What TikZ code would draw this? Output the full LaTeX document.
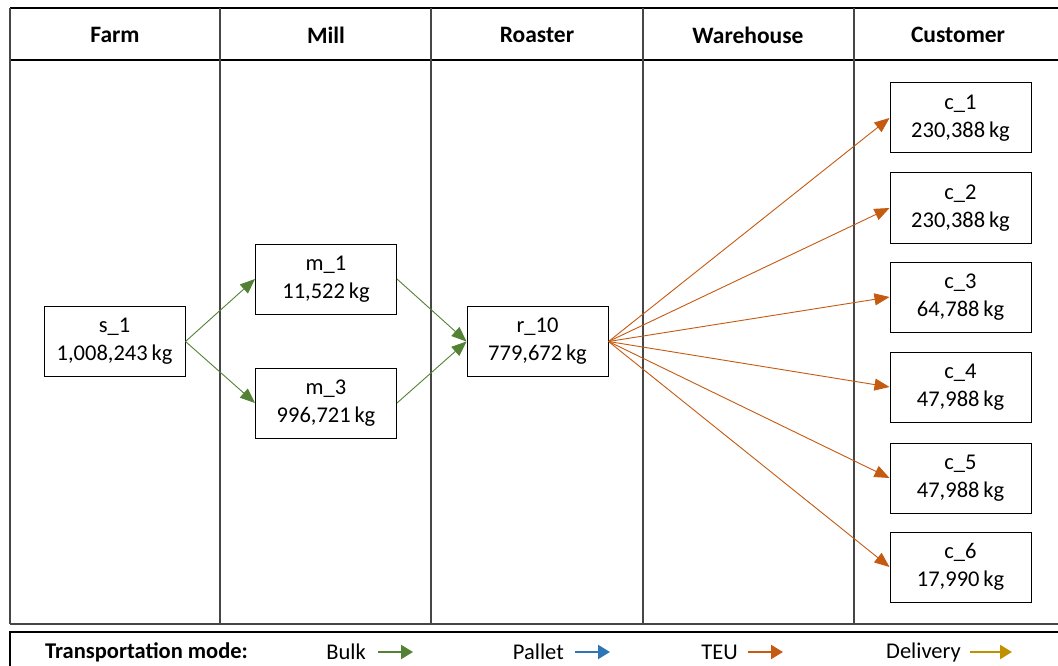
\documentclass[tikz,border=0pt]{standalone}
\usepackage{fontspec}
\setmainfont{Carlito}
\usetikzlibrary{arrows.meta}
\definecolor{bulkc}{RGB}{84,130,53}
\definecolor{palletc}{RGB}{46,117,182}
\definecolor{teuc}{RGB}{197,90,17}
\definecolor{delivc}{RGB}{191,144,0}
\definecolor{colline}{RGB}{70,70,70}
\begin{document}
\begin{tikzpicture}[x=1pt,y=-1pt,
  box/.style={draw=black,line width=1pt,fill=white,minimum width=141pt,minimum height=70pt,inner sep=0pt,align=center,font=\fontsize{22.5}{28}\selectfont},
  hdr/.style={font=\bfseries\fontsize{23.5}{27}\selectfont},
  flow/.style={line width=0.9pt,-{Triangle[length=15pt,width=12pt]}},
  legtxt/.style={font=\fontsize{22.5}{25}\selectfont,anchor=east,inner sep=0pt},
  legarr/.style={line width=2.2pt,-{Triangle[length=12pt,width=14pt]}}]
\useasboundingbox (0,0) rectangle (1058,666);
\fill[white] (0,0) rectangle (1058,666);
% table frame
\draw[line width=1.3pt] (10,8) -- (1058,8);
\draw[line width=1.3pt] (10,60) -- (1058,60);
\draw[line width=1.1pt,colline] (10,624) -- (1058,624);
\foreach \xx in {10,220,431,643,854}
  \draw[line width=1.2pt,colline] (\xx,8) -- (\xx,624);
% headers
\node[hdr] (hfarm) at (115,35) {Farm};
\node[hdr] (hmill) at (326,35) {Mill};
\node[hdr] (hroast) at (537,35) {Roaster};
\node[hdr] (hware) at (748,35) {Warehouse};
\node[hdr] (hcust) at (958,35) {Customer};
% nodes
\node[box] (s1) at (114.5,341.5) {s\_1\\1,008,243\,kg};
\node[box] (m1) at (326,279) {m\_1\\11,522\,kg};
\node[box] (m3) at (326,403) {m\_3\\996,721\,kg};
\node[box] (r10) at (537.5,341.5) {r\_10\\779,672\,kg};
\node[box] (c1) at (960.5,118) {c\_1\\230,388\,kg};
\node[box] (c2) at (960.5,208) {c\_2\\230,388\,kg};
\node[box] (c3) at (960.5,297) {c\_3\\64,788\,kg};
\node[box] (c4) at (960.5,387) {c\_4\\47,988\,kg};
\node[box] (c5) at (960.5,478) {c\_5\\47,988\,kg};
\node[box] (c6) at (960.5,567) {c\_6\\17,990\,kg};
% flows
\draw[flow,bulkc] (s1.east) -- (m1.west);
\draw[flow,bulkc] (s1.east) -- (m3.west);
\draw[flow,bulkc] (m1.east) -- (r10.west);
\draw[flow,bulkc] (m3.east) -- (r10.west);
\foreach \c in {c1,c2,c3,c4,c5,c6}
  \draw[flow,teuc] (r10.east) -- (\c.west);
% legend
\draw[line width=1.3pt] (10,666) -- (10,632) -- (1058,632);
\node[font=\bfseries\fontsize{22.5}{25}\selectfont,anchor=west,inner sep=0pt] (legtitle) at (45,652) {Transportation mode:};
\node[legtxt] (lbulk) at (366,652) {Bulk};
\node[legtxt] (lpal) at (564,652) {Pallet};
\node[legtxt] (lteu) at (738,652) {TEU};
\node[legtxt] (ldel) at (961,652) {Delivery};
\coordinate (ab1) at (378,652); \coordinate (ab2) at (413,652);
\coordinate (ap1) at (575,652); \coordinate (ap2) at (610,652);
\coordinate (at1) at (748,652); \coordinate (at2) at (783,652);
\coordinate (ad1) at (970,652); \coordinate (ad2) at (1012,652);
\draw[legarr,bulkc] (ab1) -- (ab2);
\draw[legarr,palletc] (ap1) -- (ap2);
\draw[legarr,teuc] (at1) -- (at2);
\draw[legarr,delivc] (ad1) -- (ad2);
\end{tikzpicture}
\end{document}
